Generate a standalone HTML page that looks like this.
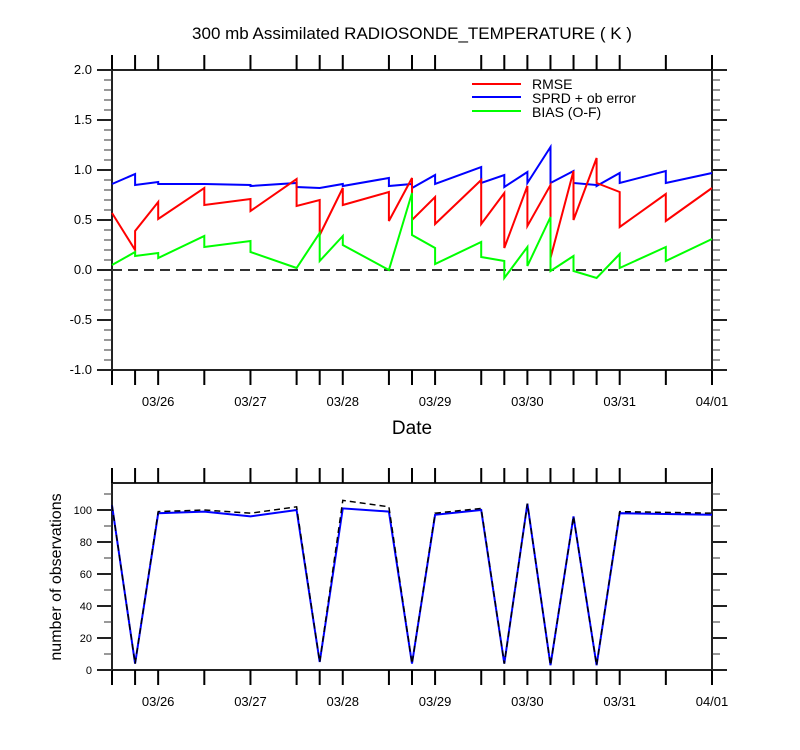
<!DOCTYPE html>
<html><head><meta charset="utf-8">
<style>
body{margin:0;background:#fff;}
svg{display:block;font-family:"Liberation Sans",sans-serif;}
</style></head>
<body>
<svg id="chart" width="800" height="750" viewBox="0 0 800 750" xmlns="http://www.w3.org/2000/svg">
<text x="412" y="39" font-size="17" text-anchor="middle" fill="#000">300 mb Assimilated RADIOSONDE_TEMPERATURE ( K )</text>
<text x="412" y="434" font-size="19" text-anchor="middle" fill="#000">Date</text>
<text transform="translate(61,577) rotate(-90)" font-size="16" text-anchor="middle" fill="#000">number of observations</text>
<g id="top"></g>
<g id="bot"></g>
<g>
<line x1="472" y1="84" x2="521" y2="84" stroke="#f00" stroke-width="2"/>
<text x="532" y="89" font-size="14">RMSE</text>
<line x1="472" y1="97" x2="521" y2="97" stroke="#00f" stroke-width="2"/>
<text x="532" y="103" font-size="14">SPRD + ob error</text>
<line x1="472" y1="111" x2="521" y2="111" stroke="#0f0" stroke-width="2"/>
<text x="532" y="117" font-size="14">BIAS (O-F)</text>
</g>
</svg>
<script>
// hours since 03/25 12Z
const hoursTop = [0,6,6,12,12,24,24,36,36,48,48,54,54,60,60,72,72,78,78,84,84,96,96,102,102,108,108,114,114,120,120,126,126,132,132,144,144,156];
const rmse  = [0.57,0.20,0.39,0.68,0.51,0.82,0.65,0.71,0.59,0.91,0.64,0.70,0.35,0.82,0.65,0.78,0.49,0.92,0.50,0.73,0.46,0.90,0.46,0.77,0.22,0.84,0.44,0.85,0.12,0.99,0.50,1.12,0.87,0.78,0.43,0.76,0.49,0.82];
const sprd  = [0.86,0.96,0.85,0.88,0.86,0.86,0.86,0.85,0.84,0.87,0.83,0.82,0.82,0.86,0.84,0.92,0.84,0.86,0.82,0.95,0.86,1.03,0.87,0.95,0.83,0.98,0.87,1.23,0.87,0.99,0.87,0.85,0.84,0.97,0.87,0.99,0.87,0.97];
const bias  = [0.05,0.18,0.14,0.17,0.12,0.34,0.23,0.29,0.18,0.02,0.02,0.37,0.09,0.34,0.25,0.00,0.00,0.77,0.35,0.22,0.06,0.28,0.13,0.09,-0.08,0.23,0.04,0.53,-0.01,0.14,-0.01,-0.08,-0.08,0.16,0.02,0.23,0.09,0.31];
const hoursBot = [0,6,12,24,36,48,54,60,72,78,84,96,102,108,114,120,126,132,156];
const obsUsed  = [103,4,98,99,96,100,5,101,99,4,97,100,4,104,3,96,3,98,97];
const obsPoss  = [103,4,99,100,98,102,5,106,102,4,98,101,4,104,3,96,3,99,98];
const tickHours = [0,6,12,24,36,48,54,60,72,78,84,96,102,108,114,120,126,132,144,156];
const dateLabels = ["03/26","03/27","03/28","03/29","03/30","03/31","04/01"];
const dateHours = [12,36,60,84,108,132,156];
const topYTicks = [-1.0,-0.5,0.0,0.5,1.0,1.5,2.0];
const botYTicks = [0,20,40,60,80,100];

const NS="http://www.w3.org/2000/svg";
const X0=112,X1=712,HMAX=156;
const xs=h=>X0+(X1-X0)*h/HMAX;
const yTop=v=>370-(v+1)*100;
const yBot=v=>670-v*1.6;
function mk(tag,attrs,parent){const e=document.createElementNS(NS,tag);for(const k in attrs)e.setAttribute(k,attrs[k]);parent.appendChild(e);return e;}
function axes(g,top,bot,yf,yticks,minorStep,ymin,ymax,fmt,pref){
  const fr=mk('rect',{x:X0,y:top,width:X1-X0,height:bot-top,fill:'none',stroke:'#222','stroke-width':2},g);
  
  
  tickHours.forEach(h=>{
    const x=xs(h);
    const t1=mk('line',{x1:x,y1:bot,x2:x,y2:bot+15,stroke:'#000','stroke-width':2},g);
    
    
    const t2=mk('line',{x1:x,y1:top,x2:x,y2:top-15,stroke:'#000','stroke-width':2},g);
    
    
  });
  dateLabels.forEach((l,i)=>{
    const t=mk('text',{x:xs(dateHours[i]),y:bot+36,'font-size':13,'text-anchor':'middle'},g);
    t.textContent=l;
    
    
  });
  for(let v=ymin;v<=ymax+1e-9;v+=minorStep){
    const y=yf(v);
    [[X0,X0-8],[X1,X1+8]].forEach(p=>{
      const m=mk('line',{x1:p[0],y1:y,x2:p[1],y2:y,stroke:'#333','stroke-width':1},g);
      
      
    });
  }
  yticks.forEach(v=>{
    const y=yf(v);
    [[X0,X0-15],[X1,X1+15]].forEach(p=>{
      const m=mk('line',{x1:p[0],y1:y,x2:p[1],y2:y,stroke:'#222','stroke-width':2},g);
      
      
    });
    const t=mk('text',{x:X0-20,y:y+4,'font-size':fmt?13:11,'text-anchor':'end'},g);
    t.textContent=fmt?v.toFixed(1):String(v);
    
    
  });
}
function series(g,hs,vals,yf,color,dash,name,w){
  const d=hs.map((h,i)=>(i?'L':'M')+xs(h).toFixed(1)+','+yf(vals[i]).toFixed(1)).join('');
  const p=mk('path',{d:d,fill:'none',stroke:color,'stroke-width':w||2,'stroke-linejoin':'miter'},g);
  if(dash)p.setAttribute('stroke-dasharray',dash);
  
  
}
const gt=document.getElementById('top');
axes(gt,70,370,yTop,topYTicks,0.1,-1,2,true,'top');
const zl=mk('line',{x1:X0,y1:yTop(0),x2:X1,y2:yTop(0),stroke:'#333','stroke-width':2,'stroke-dasharray':'10,6'},gt);


series(gt,hoursTop,sprd,yTop,'#00f',null,'sprd-line');
series(gt,hoursTop,rmse,yTop,'#f00',null,'rmse-line');
series(gt,hoursTop,bias,yTop,'#0f0',null,'bias-line');
const gb=document.getElementById('bot');
axes(gb,483,670,yBot,botYTicks,10,0,110,false,'bottom');
series(gb,hoursBot,obsUsed,yBot,'#00f',null,'obs-used-line',2);
series(gb,hoursBot,obsPoss,yBot,'#000','6,4','obs-possible-line',1.5);
</script>
</body></html>
